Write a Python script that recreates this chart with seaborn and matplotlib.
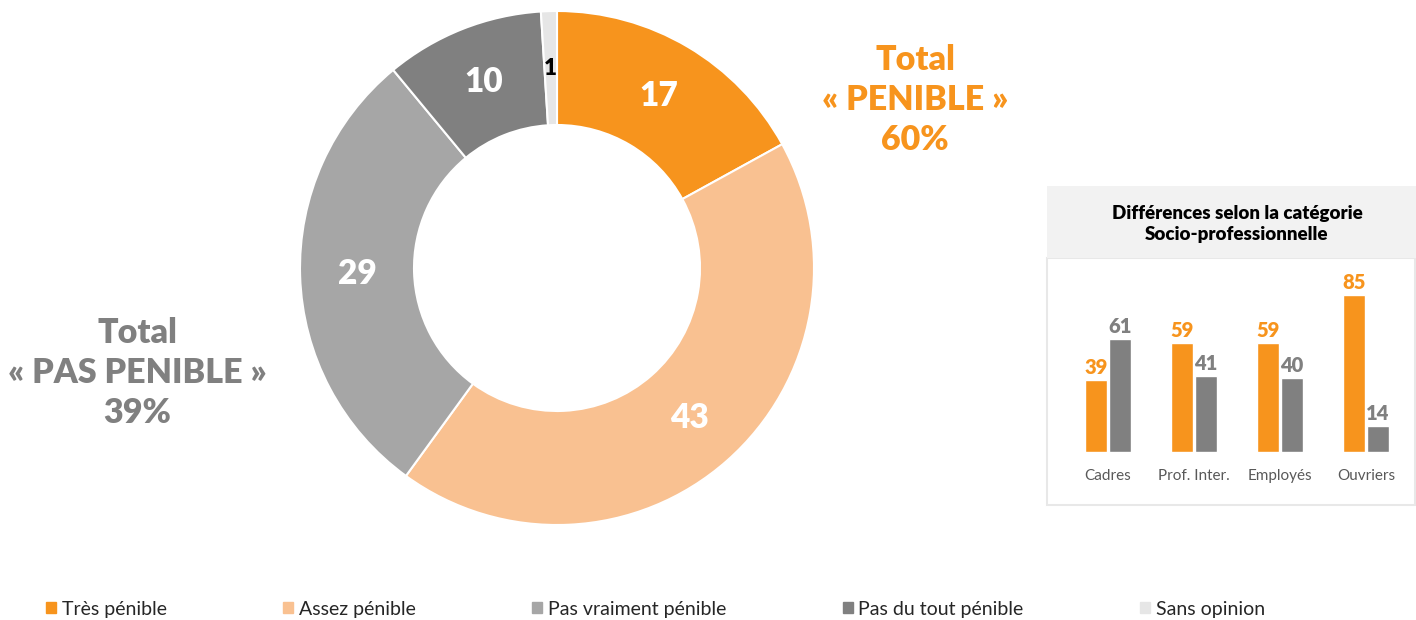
import matplotlib.pyplot as plt
import matplotlib.patches as mpatches
import numpy as np
import pandas as pd
import seaborn as sns

sns.set_theme(style="white")
plt.rcParams['font.family'] = ['Lato', 'DejaVu Sans']

# donut data
categories = ['Très pénible', 'Assez pénible', 'Pas vraiment pénible', 'Pas du tout pénible', 'Sans opinion']
values = [17, 43, 29, 10, 1]
colors = ['#F7941D', '#F9C191', '#A6A6A6', '#808080', '#E6E6E6']
label_colors = ['white', 'white', 'white', 'white', 'black']

# inset data
csp = ['Cadres', 'Prof. Inter.', 'Employés', 'Ouvriers']
penible = [39, 59, 59, 85]
pas_penible = [61, 41, 40, 14]

fig = plt.figure(figsize=(14.16, 6.2), dpi=100)

# ---- donut
W, H = 1416, 620
cx, cy, r_px = 557, 268, 257
box = 262
ax = fig.add_axes([(cx - box) / W, (H - cy - box) / H, 2 * box / W, 2 * box / H])
wedges, _ = ax.pie(values, colors=colors, startangle=90, counterclock=False,
                   radius=1, wedgeprops=dict(width=(257 - 143) / 257, edgecolor='white', linewidth=1.5))
lim = box / r_px
ax.set_xlim(-lim, lim)
ax.set_ylim(-lim, lim)
ax.set_aspect('equal')
ax.axis('off')

cum = 0
rmid = (257 + 143) / 2 / 257
for v, c in zip(values, label_colors):
    ang = np.deg2rad(90 - (cum + v / 2) * 3.6)
    cum += v
    ax.text(rmid * np.cos(ang), rmid * np.sin(ang), str(v), ha='center', va='center',
            fontsize=24 if v > 1 else 16, fontweight='heavy', color=c)

fig.text(915 / W, 1 - 100 / H, 'Total\n« PENIBLE »\n60%', ha='center', va='center',
         fontsize=24.5, fontweight='heavy', color='#F7941D', linespacing=1.32)
fig.text(137 / W, 1 - 373 / H, 'Total\n« PAS PENIBLE »\n39%', ha='center', va='center',
         fontsize=24.5, fontweight='heavy', color='#808080', linespacing=1.32)

# ---- inset panel
panel = mpatches.Rectangle((1047 / W, 1 - 505 / H), (W - 1048) / W, (505 - 258) / H,
                           transform=fig.transFigure, facecolor='white', edgecolor='#E8E8E8',
                           linewidth=1.5, zorder=-2)
fig.patches.append(panel)
header = mpatches.Rectangle((1047 / W, 1 - 258 / H), (W - 1047) / W, (258 - 186) / H,
                            transform=fig.transFigure, facecolor='#F2F2F2', edgecolor='none', zorder=-1)
fig.patches.append(header)
fig.text(1237 / W, 1 - 224 / H, 'Différences selon la catégorie\nSocio-professionnelle',
         ha='center', va='center', fontsize=13.5, fontweight='heavy', color='black', linespacing=1.3)

df = pd.DataFrame({
    'csp': csp * 2,
    'val': penible + pas_penible,
    'serie': ['penible'] * 4 + ['pas'] * 4,
})
iax = fig.add_axes([(1108 - 43) / W, (H - 452) / H, 344 / W, 185 / H])
iax.set_zorder(2)
sns.barplot(data=df, x='csp', y='val', hue='serie', palette=['#F7941D', '#808080'],
            width=0.56, gap=0.08, legend=False, ax=iax, saturation=1)
for cont, col in zip(iax.containers, ['#F7941D', '#808080']):
    iax.bar_label(cont, padding=2, fontsize=14.5, fontweight='heavy', color=col)
iax.set_ylim(0, 100)
iax.set_xlim(-0.5, 3.5)
iax.set_xlabel('')
iax.set_ylabel('')
iax.set_yticks([])
iax.tick_params(axis='x', length=0, pad=12, labelsize=11, labelcolor='#595959')
for s in iax.spines.values():
    s.set_visible(False)
iax.patch.set_alpha(0)

# ---- legend
handles = [mpatches.Patch(color=c, label=l) for c, l in zip(colors, categories)]
fig.legend(handles=handles, loc='center left', bbox_to_anchor=(46 / W, 1 - 609 / H), ncol=5,
           frameon=False, fontsize=14, handlelength=0.5, handleheight=0.5,
           handletextpad=0.3, columnspacing=6.0, borderaxespad=0, borderpad=0)

fig.savefig('out.png', dpi=100)
